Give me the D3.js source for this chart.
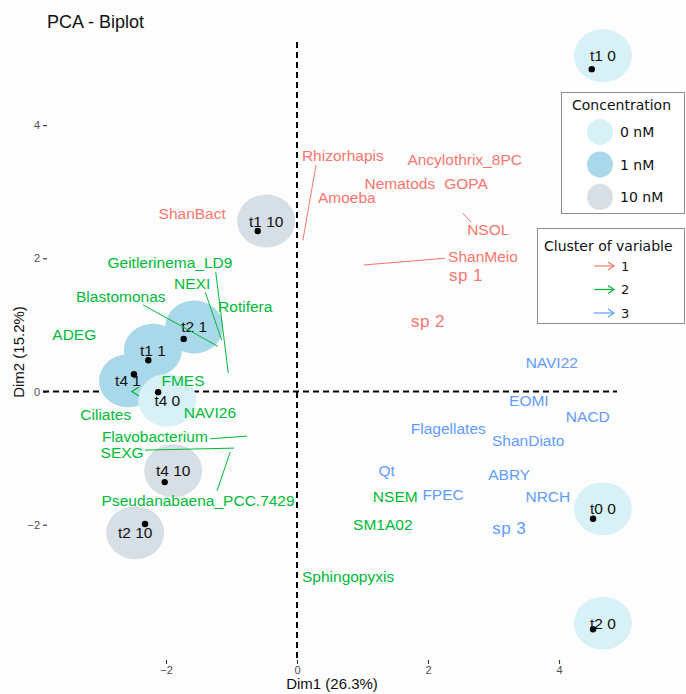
<!DOCTYPE html>
<html><head><meta charset="utf-8">
<script src="https://cdn.jsdelivr.net/npm/d3@7"></script>
<style>body{margin:0;background:#fff}svg{display:block}</style>
</head><body>
<script>
// ---- data ----
const indNames = ["t1 10","t4 10","t2 10","t2 1","t1 1","t4 1","t1 0","t0 0","t2 0","t4 0"];
const indConc  = ["10 nM","10 nM","10 nM","1 nM","1 nM","1 nM","0 nM","0 nM","0 nM","0 nM"];
const indX     = [-0.60,-2.02,-2.32,-1.73,-2.27,-2.49,4.50,4.52,4.52,-2.12];
const indY     = [ 2.41,-1.36,-1.99, 0.79, 0.47, 0.26,4.84,-1.91,-3.57,-0.01];
const indLabX  = [-0.47,-1.89,-2.47,-1.57,-2.20,-2.58,4.67,4.67,4.67,-1.98];
const indLabY  = [ 2.56,-1.19,-2.12, 0.97, 0.62, 0.16,5.04,-1.76,-3.48,-0.13];

const concLevels = ["0 nM","1 nM","10 nM"];
const concColors = ["#d8f1f7","#a9d8ea","#d6dee6"];

const varNames = ["Rhizorhapis","Amoeba","Nematods","Ancylothrix_8PC","GOPA","NSOL","ShanMeio","ShanBact","sp 1","sp 2",
  "Geitlerinema_LD9","NEXI","Blastomonas","Rotifera","ADEG","FMES","Ciliates","NAVI26","Flavobacterium","SEXG","Pseudanabaena_PCC.7429","Sphingopyxis","NSEM","SM1A02",
  "NAVI22","EOMI","NACD","Flagellates","ShanDiato","Qt","ABRY","FPEC","NRCH","sp 3"];
const varCluster = [1,1,1,1,1,1,1,1,1,1, 2,2,2,2,2,2,2,2,2,2,2,2,2,2, 3,3,3,3,3,3,3,3,3,3];
const varLabX = [0.70,0.76,1.57,2.56,2.58,2.92,2.84,-1.60,2.58,2.00,
  -1.94,-1.60,-2.69,-0.79,-3.40,-1.74,-2.92,-1.33,-2.17,-2.67,-1.51,0.78,1.50,1.31,
  3.89,3.54,4.44,2.31,3.53,1.37,3.24,2.23,3.83,3.24];
const varLabY = [3.54,2.92,3.13,3.49,3.13,2.43,2.03,2.68,1.75,1.06,
  1.94,1.63,1.43,1.28,0.86,0.16,-0.34,-0.32,-0.67,-0.91,-1.63,-2.77,-1.58,-2.00,
  0.43,-0.14,-0.38,-0.56,-0.73,-1.19,-1.24,-1.54,-1.57,-2.05];
const supplementary = ["sp 1","sp 2","sp 3"];

// leader segments: variable, start (near label) and end (variable point)
const segVar = ["Rhizorhapis","NSOL","ShanMeio","Geitlerinema_LD9","NEXI","Blastomonas","Flavobacterium","SEXG","Pseudanabaena_PCC.7429"];
const segX1  = [0.29,2.53,2.26,-1.24,-1.40,-2.35,-1.33,-2.32,-1.22];
const segY1  = [3.40,2.68,2.00, 1.79, 1.49, 1.30,-0.71,-0.88,-1.49];
const segX2  = [0.09,2.66,1.02,-1.05,-1.15,-1.21,-0.76,-0.96,-1.02];
const segY2  = [2.27,2.54,1.90, 0.28, 0.77, 0.68,-0.67,-0.85,-0.91];
// arrow tip visible near Ciliates
const tipVar = ["Ciliates"], tipX = [-2.52], tipY = [0.0];

const clusterLevels = ["1","2","3"];
const clusterColors = ["#F8766D","#00BA38","#619CFF"];

const xTicks = [-2,0,2,4], yTicks = [-2,0,2,4];
const title = "PCA - Biplot", xTitle = "Dim1 (26.3%)", yTitle = "Dim2 (15.2%)";

// ---- drawing ----
const W = 686, H = 694;
const svg = d3.select("body").append("svg").attr("width", W).attr("height", H);
svg.append("rect").attr("width", W).attr("height", H).attr("fill", "#fdfdfd");

const x = d3.scaleLinear().domain([-2, 4]).range([166, 559]);
const y = d3.scaleLinear().domain([-2, 4]).range([524.7, 125.1]);
const conc = d3.scaleOrdinal().domain(concLevels).range(concColors);
const clus = d3.scaleOrdinal().domain(clusterLevels).range(clusterColors);
const font = "'Liberation Sans', Arial, sans-serif";
const lfont = "'DejaVu Sans', Verdana, sans-serif";

// axes
const xAxis = svg.append("g").attr("transform", "translate(0,660)")
  .call(d3.axisBottom(x).tickValues(xTicks).tickSize(4).tickPadding(2).tickFormat(d3.format("d")));
const yAxis = svg.append("g").attr("transform", "translate(47,0)")
  .call(d3.axisLeft(y).tickValues(yTicks).tickSize(4).tickPadding(3).tickFormat(d3.format("d")));
[xAxis, yAxis].forEach(g => {
  g.select(".domain").remove();
  g.selectAll(".tick line").attr("stroke", "#333").attr("stroke-width", 1.1);
  g.selectAll(".tick text").attr("fill", "#4d4d4d").style("font-family", font).style("font-size", "11px");
});

// reference lines
svg.append("line").attr("x1", 43).attr("x2", 617).attr("y1", y(0)).attr("y2", y(0))
  .attr("stroke", "#000").attr("stroke-width", 2).attr("stroke-dasharray", "6,4");
svg.append("line").attr("x1", x(0)).attr("x2", x(0)).attr("y1", 42).attr("y2", 660)
  .attr("stroke", "#000").attr("stroke-width", 2).attr("stroke-dasharray", "6,4");

// individuals
const ind = indNames.map((n, i) => ({n, c: indConc[i], x: indX[i], y: indY[i], lx: indLabX[i], ly: indLabY[i]}));
const order = ["10 nM", "1 nM", "0 nM"];
const indSorted = ind.slice().sort((a, b) => order.indexOf(a.c) - order.indexOf(b.c));
svg.append("g").selectAll("ellipse").data(indSorted).join("ellipse")
  .attr("cx", d => x(d.lx)).attr("cy", d => y(d.ly)).attr("rx", 29).attr("ry", 26.5)
  .attr("fill", d => conc(d.c));
svg.append("g").selectAll("circle").data(ind).join("circle")
  .attr("cx", d => x(d.x)).attr("cy", d => y(d.y)).attr("r", 3.2).attr("fill", "#000");
svg.append("g").selectAll("text").data(ind).join("text")
  .attr("x", d => x(d.lx)).attr("y", d => y(d.ly)).attr("dy", "0.36em")
  .attr("text-anchor", "middle").style("font-family", font).style("font-size", "15.5px")
  .attr("fill", "#111").text(d => d.n);

// leader segments
const segs = segVar.map((v, i) => ({c: varCluster[varNames.indexOf(v)], x1: segX1[i], y1: segY1[i], x2: segX2[i], y2: segY2[i]}));
svg.append("g").selectAll("line").data(segs).join("line")
  .attr("x1", d => x(d.x1)).attr("y1", d => y(d.y1)).attr("x2", d => x(d.x2)).attr("y2", d => y(d.y2))
  .attr("stroke", d => clus(String(d.c))).attr("stroke-width", 1);
const tips = tipVar.map((v, i) => ({c: varCluster[varNames.indexOf(v)], x: tipX[i], y: tipY[i]}));
svg.append("g").selectAll("path").data(tips).join("path")
  .attr("d", d => `M${x(d.x) + 7},${y(d.y) - 4.5} L${x(d.x)},${y(d.y)} L${x(d.x) + 7},${y(d.y) + 4.5}`)
  .attr("fill", "none").attr("stroke", d => clus(String(d.c))).attr("stroke-width", 1.3);

// variable labels
const vars = varNames.map((n, i) => ({n, c: varCluster[i], x: varLabX[i], y: varLabY[i]}));
svg.append("g").selectAll("text").data(vars).join("text")
  .attr("x", d => x(d.x)).attr("y", d => y(d.y)).attr("dy", "0.36em")
  .attr("text-anchor", "middle").style("font-family", font)
  .style("font-size", d => supplementary.includes(d.n) ? "17px" : "15.5px")
  .style("letter-spacing", d => supplementary.includes(d.n) ? "0.5px" : "0px")
  .attr("fill", d => clus(String(d.c))).text(d => d.n);

// titles
svg.append("text").attr("x", 47).attr("y", 28).style("font-family", font).style("font-size", "18px")
  .attr("fill", "#111").text(title);
svg.append("text").attr("x", 332).attr("y", 689).attr("text-anchor", "middle")
  .style("font-family", font).style("font-size", "15px").attr("fill", "#111").text(xTitle);
svg.append("text").attr("transform", "translate(24,352) rotate(-90)").attr("text-anchor", "middle")
  .style("font-family", font).style("font-size", "15px").attr("fill", "#111").text(yTitle);

// legend: Concentration
const lg1 = svg.append("g");
lg1.append("rect").attr("x", 561.5).attr("y", 92.5).attr("width", 123).attr("height", 121)
  .attr("fill", "#fff").attr("stroke", "#8c8c8c").attr("stroke-width", 1);
lg1.append("text").attr("x", 572).attr("y", 110).style("font-family", lfont).style("font-size", "14px")
  .attr("fill", "#111").text("Concentration");
concLevels.forEach((l, i) => {
  const cy = 132 + i * 32.5;
  lg1.append("circle").attr("cx", 600).attr("cy", cy).attr("r", 13).attr("fill", conc(l));
  lg1.append("text").attr("x", 620).attr("y", cy).attr("dy", "0.36em").style("font-family", lfont)
    .style("font-size", "14px").attr("fill", "#111").text(l);
});

// legend: Cluster of variable
const lg2 = svg.append("g");
lg2.append("rect").attr("x", 537.5).attr("y", 228.5).attr("width", 147).attr("height", 95)
  .attr("fill", "#fff").attr("stroke", "#8c8c8c").attr("stroke-width", 1);
lg2.append("text").attr("x", 544).attr("y", 251).style("font-family", lfont).style("font-size", "14px")
  .attr("fill", "#111").text("Cluster of variable");
clusterLevels.forEach((l, i) => {
  const cy = 266 + i * 23.5;
  const col = clus(l);
  lg2.append("line").attr("x1", 594).attr("x2", 614).attr("y1", cy).attr("y2", cy).attr("stroke", col).attr("stroke-width", 1.2);
  lg2.append("path").attr("d", `M608,${cy - 4} L614,${cy} L608,${cy + 4}`).attr("fill", "none").attr("stroke", col).attr("stroke-width", 1.2);
  lg2.append("text").attr("x", 621).attr("y", cy).attr("dy", "0.36em").style("font-family", lfont)
    .style("font-size", "13px").attr("fill", "#111").text(l);
});
</script>
</body></html>
